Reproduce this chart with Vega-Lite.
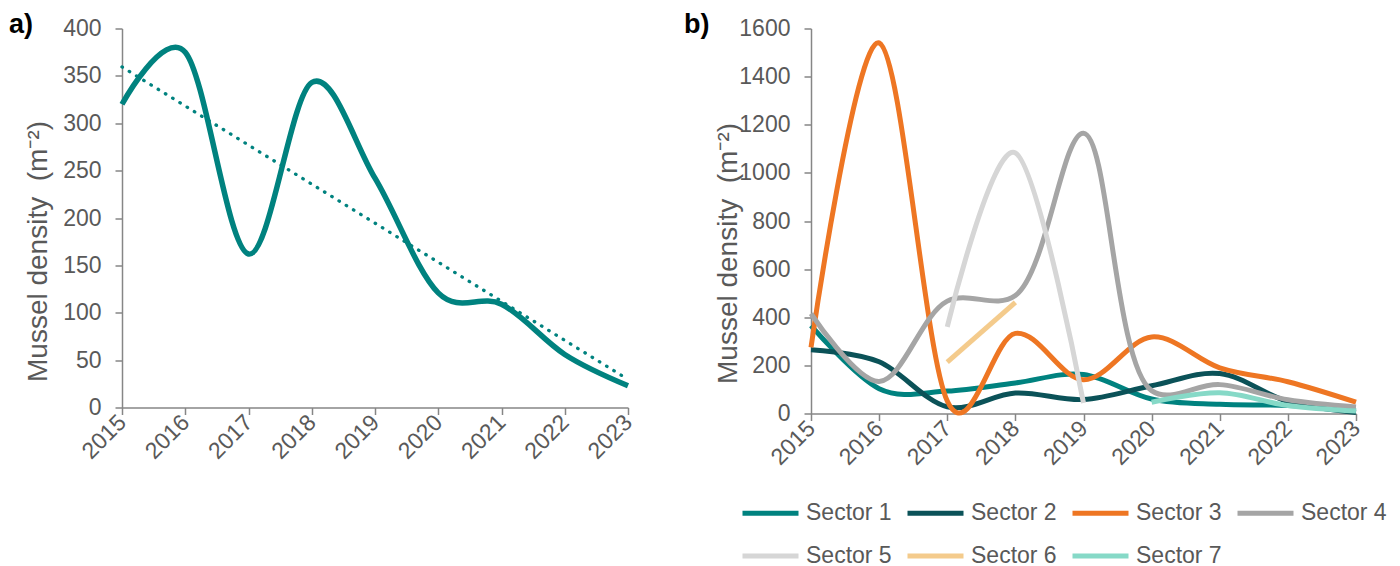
{
  "$schema": "https://vega.github.io/schema/vega-lite/v6.json",
  "padding": {"left": 9, "top": 10.5, "right": 0, "bottom": 0},
  "autosize": {"type": "pad"},
  "spacing": 45,
  "background": "white",
  "config": {
    "view": {"stroke": null},
    "font": "Liberation Sans",
    "title": {"font": "Liberation Sans", "fontSize": 27, "fontWeight": "bold", "color": "#000000"},
    "axis": {
      "labelFont": "Liberation Sans", "labelFontSize": 23, "labelColor": "#595959",
      "titleFont": "Liberation Sans", "titleFontSize": 28, "titleFontWeight": "normal", "titleColor": "#595959",
      "domainColor": "#868686", "tickColor": "#868686", "domainWidth": 1.5, "tickWidth": 1.5,
      "tickSize": 7, "grid": false, "labelFlush": false, "labelOverlap": false, "labelBound": false
    },
    "legend": {
      "labelFont": "Liberation Sans", "labelFontSize": 23, "labelColor": "#595959"
    }
  },
  "hconcat": [
    {
      "width": 506,
      "height": 379,
      "title": {"text": "a)", "anchor": "start", "frame": "group", "baseline": "alphabetic", "offset": -25, "dx": -113, "dy": 17},
      "data": {"values": [
        {"year": 2015, "density": 320},
        {"year": 2016, "density": 375},
        {"year": 2017, "density": 162},
        {"year": 2018, "density": 343},
        {"year": 2019, "density": 242},
        {"year": 2020, "density": 121},
        {"year": 2021, "density": 109},
        {"year": 2022, "density": 56},
        {"year": 2023, "density": 23}
      ]},
      "encoding": {
        "x": {"field": "year", "type": "quantitative",
              "scale": {"domain": [2015, 2023], "nice": false, "zero": false},
              "axis": {"title": null, "values": [2015, 2016, 2017, 2018, 2019, 2020, 2021, 2022, 2023], "format": "d",
                       "labelAngle": -45, "labelAlign": "right", "labelBaseline": "middle", "labelPadding": 4}},
        "y": {"field": "density", "type": "quantitative",
              "scale": {"domain": [0, 400], "nice": false},
              "axis": {"title": "Mussel density \u00a0(m⁻²)", "values": [0, 50, 100, 150, 200, 250, 300, 350, 400], "format": "d",
                       "labelPadding": 14, "titleX": -83.7, "titleY": 222.5, "titleBaseline": "middle"}}
      },
      "layer": [
        {"mark": {"type": "line", "interpolate": "cardinal", "color": "#00827F", "strokeWidth": 5.5}},
        {"transform": [{"regression": "density", "on": "year"}],
         "mark": {"type": "line", "color": "#00827F", "strokeWidth": 3.3, "strokeDash": [0.5, 8], "strokeCap": "round"}}
      ]
    },
    {
      "width": 545,
      "height": 385,
      "title": {"text": "b)", "anchor": "start", "frame": "group", "baseline": "alphabetic", "offset": -25, "dx": -127, "dy": 17},
      "data": {"values": [
        {"year": 2015, "sector": "Sector 1", "density": 365},
        {"year": 2016, "sector": "Sector 1", "density": 103},
        {"year": 2017, "sector": "Sector 1", "density": 93},
        {"year": 2018, "sector": "Sector 1", "density": 127},
        {"year": 2019, "sector": "Sector 1", "density": 162},
        {"year": 2020, "sector": "Sector 1", "density": 60},
        {"year": 2021, "sector": "Sector 1", "density": 38},
        {"year": 2022, "sector": "Sector 1", "density": 33},
        {"year": 2023, "sector": "Sector 1", "density": 10},
        {"year": 2015, "sector": "Sector 2", "density": 265},
        {"year": 2016, "sector": "Sector 2", "density": 215},
        {"year": 2017, "sector": "Sector 2", "density": 28},
        {"year": 2018, "sector": "Sector 2", "density": 85},
        {"year": 2019, "sector": "Sector 2", "density": 58},
        {"year": 2020, "sector": "Sector 2", "density": 115},
        {"year": 2021, "sector": "Sector 2", "density": 166},
        {"year": 2022, "sector": "Sector 2", "density": 50},
        {"year": 2023, "sector": "Sector 2", "density": 4},
        {"year": 2015, "sector": "Sector 3", "density": 275},
        {"year": 2016, "sector": "Sector 3", "density": 1540},
        {"year": 2017, "sector": "Sector 3", "density": 52},
        {"year": 2018, "sector": "Sector 3", "density": 333},
        {"year": 2019, "sector": "Sector 3", "density": 140},
        {"year": 2020, "sector": "Sector 3", "density": 318},
        {"year": 2021, "sector": "Sector 3", "density": 190},
        {"year": 2022, "sector": "Sector 3", "density": 132},
        {"year": 2023, "sector": "Sector 3", "density": 47},
        {"year": 2015, "sector": "Sector 4", "density": 415},
        {"year": 2016, "sector": "Sector 4", "density": 133},
        {"year": 2017, "sector": "Sector 4", "density": 467},
        {"year": 2018, "sector": "Sector 4", "density": 490},
        {"year": 2019, "sector": "Sector 4", "density": 1165},
        {"year": 2020, "sector": "Sector 4", "density": 95},
        {"year": 2021, "sector": "Sector 4", "density": 120},
        {"year": 2022, "sector": "Sector 4", "density": 57},
        {"year": 2023, "sector": "Sector 4", "density": 27},
        {"year": 2017, "sector": "Sector 5", "density": 360},
        {"year": 2018, "sector": "Sector 5", "density": 1083},
        {"year": 2019, "sector": "Sector 5", "density": 44},
        {"year": 2017, "sector": "Sector 6", "density": 213},
        {"year": 2018, "sector": "Sector 6", "density": 462},
        {"year": 2020, "sector": "Sector 7", "density": 47},
        {"year": 2021, "sector": "Sector 7", "density": 86},
        {"year": 2022, "sector": "Sector 7", "density": 33},
        {"year": 2023, "sector": "Sector 7", "density": 10}
      ]},
      "encoding": {
        "x": {"field": "year", "type": "quantitative",
              "scale": {"domain": [2015, 2023], "nice": false, "zero": false},
              "axis": {"title": null, "values": [2015, 2016, 2017, 2018, 2019, 2020, 2021, 2022, 2023], "format": "d",
                       "labelAngle": -45, "labelAlign": "right", "labelBaseline": "middle", "labelPadding": 4}},
        "y": {"field": "density", "type": "quantitative",
              "scale": {"domain": [0, 1600], "nice": false},
              "axis": {"title": "Mussel density \u00a0(m⁻²)", "values": [0, 200, 400, 600, 800, 1000, 1200, 1400, 1600], "format": "d",
                       "labelPadding": 14, "titleX": -82.5, "titleY": 224.5, "titleBaseline": "middle"}},
        "color": {"field": "sector", "type": "nominal",
                  "scale": {"domain": ["Sector 1", "Sector 2", "Sector 3", "Sector 4", "Sector 5", "Sector 6", "Sector 7"],
                            "range": ["#00827F", "#0B5258", "#EE7623", "#A5A5A5", "#D6D6D6", "#F4CB8C", "#86D9C7"]},
                  "legend": {"title": null, "orient": "none", "legendX": 618, "legendY": 454, "direction": "horizontal",
                             "columns": 4, "symbolType": "stroke", "symbolSize": 3136, "symbolStrokeWidth": 5,
                             "labelOffset": 5, "columnPadding": 5, "rowPadding": -19}}
      },
      "layer": [
        {"transform": [{"filter": {"field": "sector", "oneOf": ["Sector 1", "Sector 2", "Sector 3"]}}],
         "mark": {"type": "line", "interpolate": "cardinal", "strokeWidth": 5}},
        {"transform": [{"filter": {"field": "sector", "oneOf": ["Sector 4"]}}],
         "mark": {"type": "line", "interpolate": "catmull-rom", "strokeWidth": 5}},
        {"transform": [{"filter": {"field": "sector", "oneOf": ["Sector 5", "Sector 6", "Sector 7"]}}],
         "mark": {"type": "line", "interpolate": "cardinal", "strokeWidth": 5}}
      ]
    }
  ]
}
